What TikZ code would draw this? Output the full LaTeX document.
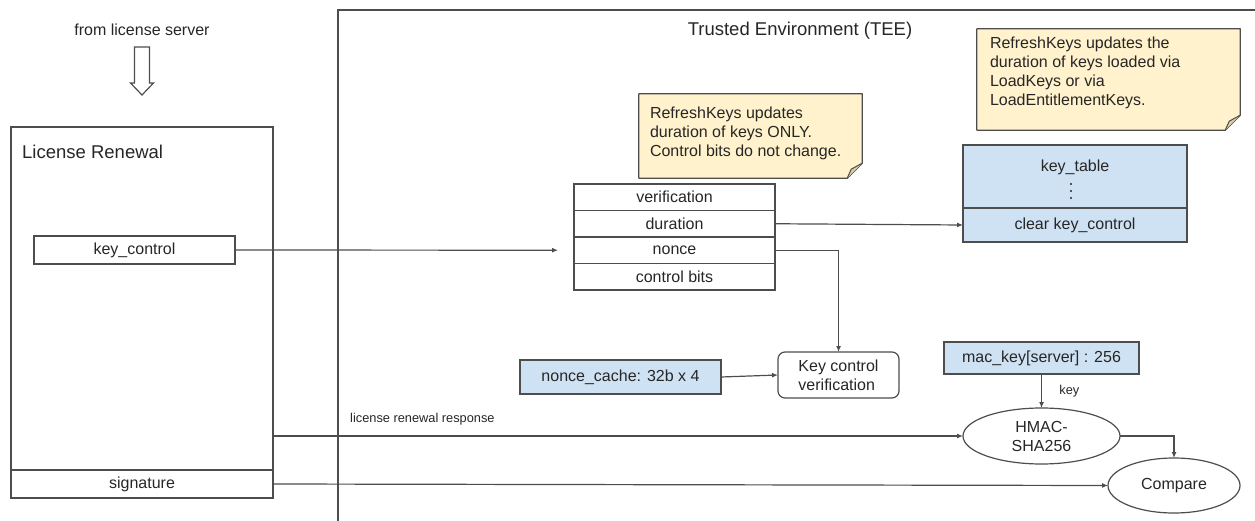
\documentclass[tikz,border=0pt]{standalone}
\usepackage{fontspec}
\setmainfont{Liberation Sans}
\usetikzlibrary{positioning,shapes.geometric,arrows.meta}

\definecolor{linegray}{HTML}{4D4D4D}
\definecolor{textgray}{HTML}{262626}
\definecolor{boxblue}{HTML}{CFE2F3}
\definecolor{noteyellow}{HTML}{FFF2CC}
\definecolor{foldyellow}{HTML}{D8CDA8}

\newcommand\boxfont{\fontsize{16}{19}\selectfont}
\newcommand\headfont{\fontsize{18.5}{22}\selectfont}
\newcommand\tinyfont{\fontsize{12.8}{15}\selectfont}

% folded corner of a sticky note, drawn round a node
\newcommand\notefold[1]{%
  \fill[noteyellow] (#1.north west) -- (#1.north east) -- ([yshift=15pt]#1.south east)
    -- ([xshift=-15pt]#1.south east) -- (#1.south west) -- cycle;
  \draw[linegray, line width=1.2pt, line join=round] (#1.north west) -- (#1.north east)
    -- ([yshift=15pt]#1.south east) -- ([xshift=-15pt]#1.south east) -- (#1.south west) -- cycle;
  \draw[linegray, line width=1pt, fill=foldyellow, line join=round] ([yshift=15pt]#1.south east)
    -- ([xshift=-11pt,yshift=9pt]#1.south east) -- ([xshift=-15pt]#1.south east);
}

\tikzset{
  box/.style={draw=linegray, line width=1.2pt, inner sep=0pt, outer sep=0pt,
    text=textgray, font=\boxfont},
  bluebox/.style={box, fill=boxblue},
  row/.style={box, minimum width=201pt, minimum height=26.5pt},
  oval/.style={box, ellipse, align=center},
  notetext/.style={text=textgray, font=\boxfont, align=left, inner sep=0pt},
  link/.style={draw=linegray, line width=1.2pt},
  arr/.style={link, -{Latex[length=6pt,width=5pt]}},
}

\begin{document}
\begin{tikzpicture}[x=1pt,y=-1pt]
\useasboundingbox (0,0) rectangle (1255,521);

% server side
\node[text=textgray, font=\boxfont] (srv) at (142,30) {from license server};
\draw[linegray, line width=1.2pt, line join=miter]
  (134.5,47) -- (149.5,47) -- (149.5,83) -- (153.5,83) -- (142,95)
  -- (130.5,83) -- (134.5,83) -- cycle;

\node[box, minimum width=262pt, minimum height=371pt] (lr) at (142,312.5) {};
\node[text=textgray, font=\headfont, anchor=west, inner sep=0pt] (lrt) at (22,152) {License Renewal};
\node[box, minimum width=201pt, minimum height=28pt] (kc) at (134.5,250) {key\_control};
\node[box, minimum width=262pt, minimum height=28pt] (sig) at (142,484) {signature};

% trusted environment
\draw[link] (1255,10) -- (338,10) -- (338,521);
\node[text=textgray, font=\headfont] (tee) at (800,31) {Trusted Environment (TEE)};

\node[minimum width=223pt, minimum height=84pt, inner sep=0pt] (n1) at (750.5,136) {};
\notefold{n1}
\node[notetext, anchor=north west] (n1t) at ([xshift=11pt,yshift=-13pt]n1.north west)
  {RefreshKeys updates\\duration of keys ONLY.\\Control bits do not change.};

\node[minimum width=263pt, minimum height=101pt, inner sep=0pt] (n2) at (1108.5,79.5) {};
\notefold{n2}
\node[notetext, anchor=north west] (n2t) at ([xshift=13pt,yshift=-8pt]n2.north west)
  {RefreshKeys updates the\\duration of keys loaded via\\LoadKeys or via\\LoadEntitlementKeys.};

\node[row] (ver) at (674.5,197.25) {verification};
\node[row, below=0pt of ver] (dur) {duration};
\node[row, below=0pt of dur] (non) {nonce};
\node[row, below=0pt of non] (cb) {control bits};

\node[bluebox, minimum width=224pt, minimum height=63pt] (kt) at (1075,176.5) {};
\node[text=textgray, font=\boxfont] (ktl) at (1075,167) {key\_table};
\foreach \dy in {184,191,198}
  \fill[textgray] (1071,\dy) circle [radius=1.2pt];
\node[bluebox, minimum width=224pt, minimum height=34pt, below=0pt of kt] (ktc) {clear key\_control};

\node[box, rounded corners=7pt, minimum width=121pt, minimum height=46pt, align=left] (kcv)
  at (838.5,375) {Key control\\verification};
\node[bluebox, minimum width=201pt, minimum height=34pt] (nc) at (620.5,377) {nonce\_cache: 32b x 4};

\node[bluebox, minimum width=195pt, minimum height=32pt] (mk) at (1041.5,358) {mac\_key[server] : 256};
\node[oval, minimum width=157pt, minimum height=56pt] (hm) at (1041.5,436) {HMAC-\\SHA256};
\node[oval, minimum width=132pt, minimum height=55pt] (cmp) at (1174,485.5) {Compare};

% connectors
\draw[arr, shorten >=16pt] (kc.east) -- (non.west);
\draw[arr] (dur.east) -- (ktc.west);
\draw[arr] (non.east) -| (kcv.north);
\draw[arr] (nc.east) -- (kcv.west);
\draw[arr] (mk.south) -- node[midway, right=14pt, text=textgray, font=\tinyfont] (keylbl) {key} (hm.north);
\draw[arr] (hm.east) -| (cmp.north);
\draw[arr] (lr.east |- hm.west) -- (hm.west);
\node[text=textgray, font=\tinyfont, anchor=west, inner sep=0pt] (resp) at (350,419) {license renewal response};
\draw[arr] (sig.east) -- (cmp.west);
\end{tikzpicture}
\end{document}
